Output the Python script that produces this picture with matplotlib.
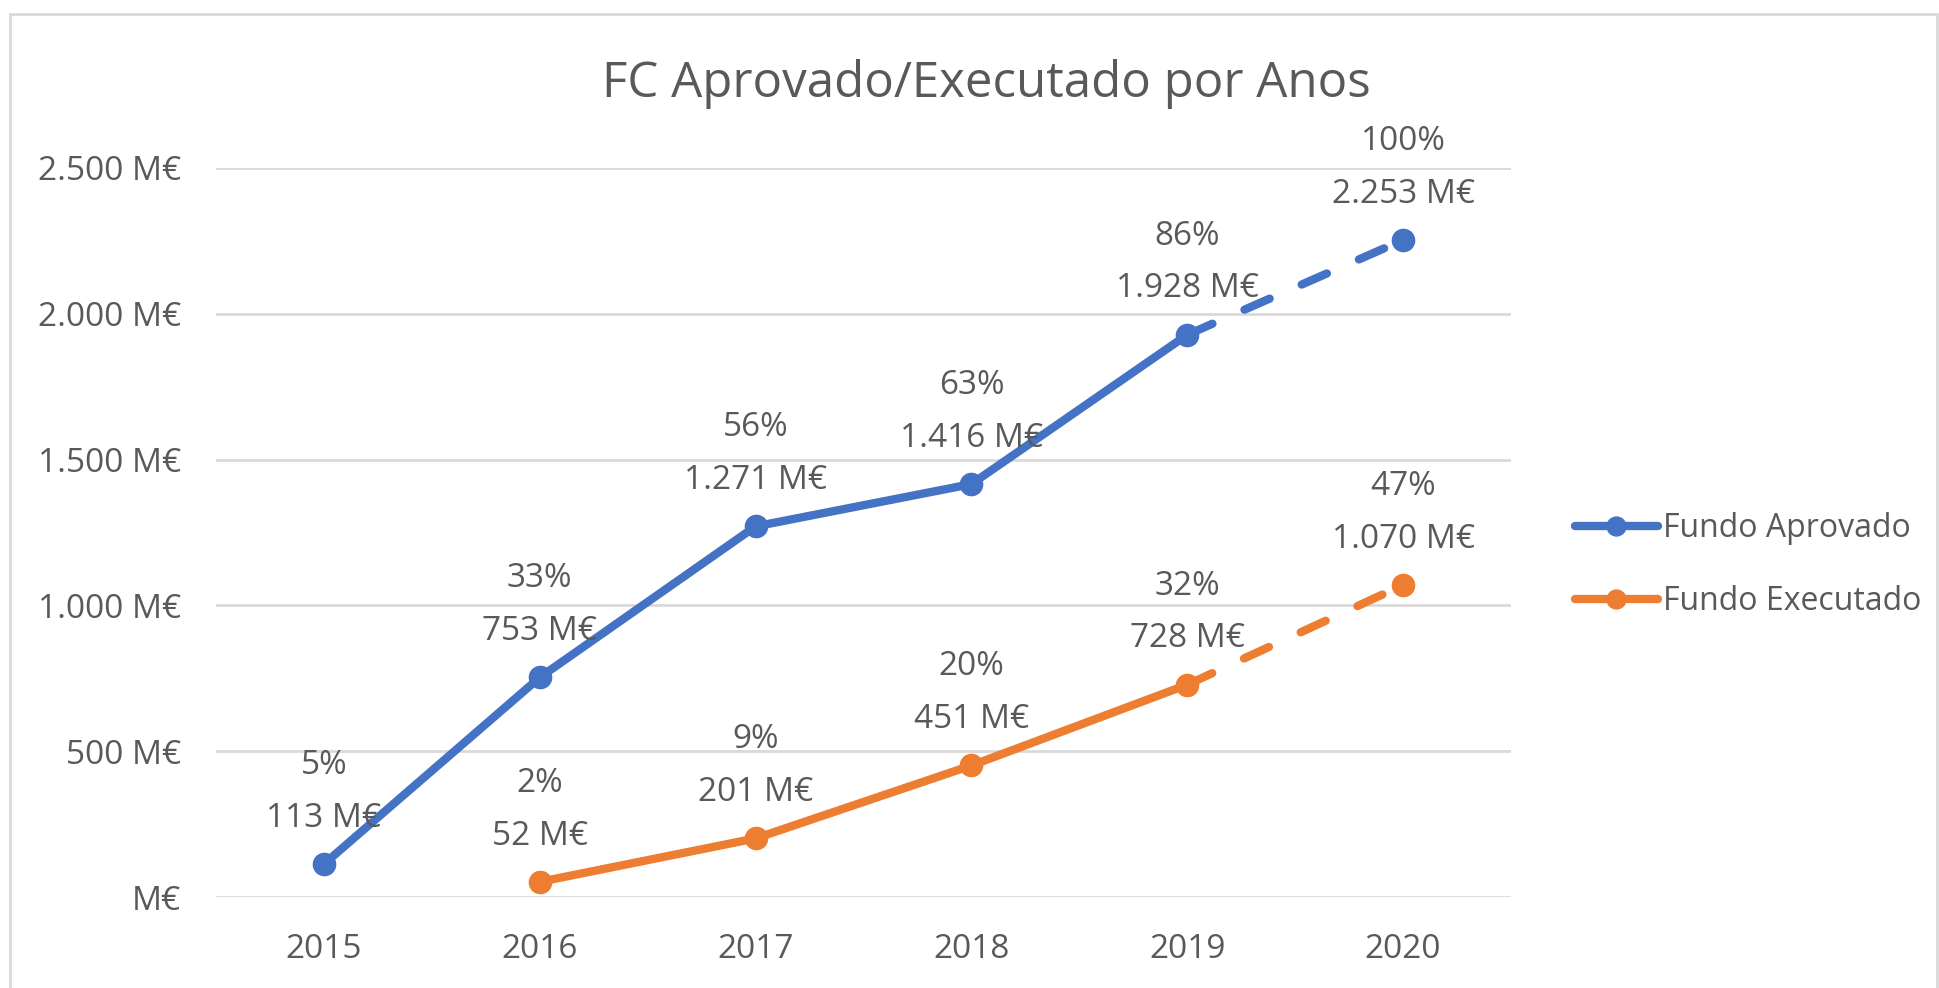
#!/usr/bin/env python3
import matplotlib
matplotlib.use("Agg")
import matplotlib.pyplot as plt
from matplotlib.patches import Rectangle

years = ["2015", "2016", "2017", "2018", "2019", "2020"]
aprovado = [113, 753, 1271, 1416, 1928, 2253]
aprovado_pct = ["5%", "33%", "56%", "63%", "86%", "100%"]
executado = [None, 52, 201, 451, 728, 1070]
executado_pct = [None, "2%", "9%", "20%", "32%", "47%"]
y_ticks = [0, 500, 1000, 1500, 2000, 2500]

BLUE = "#4472C4"
ORANGE = "#ED7D31"
TEXT = "#595959"
GRID = "#D9D9D9"


def fmt_meur(v):
    if v == 0:
        return "M€"
    return f"{v:,.0f}".replace(",", ".") + " M€"


plt.rcParams["font.family"] = ["Open Sans", "DejaVu Sans"]

fig = plt.figure(figsize=(19.39, 9.88), dpi=100)
fig.patches.append(Rectangle((10 / 1939, -0.1), 1927 / 1939, 1.1 - 14 / 988,
                             transform=fig.transFigure, fill=False,
                             edgecolor="#D9D9D9", linewidth=2))

ax = fig.add_axes([216 / 1939, 1 - 897 / 988, 1295 / 1939, 729 / 988])
xs = list(range(len(years)))

for vals, pcts, color, label in [
    (aprovado, aprovado_pct, BLUE, "Fundo Aprovado"),
    (executado, executado_pct, ORANGE, "Fundo Executado"),
]:
    idx = [i for i, v in enumerate(vals) if v is not None]
    solid_x = [i for i in idx if i <= 4]
    solid_y = [vals[i] for i in solid_x]
    ax.plot(solid_x, solid_y, color=color, linewidth=6, marker="o",
            markersize=16, solid_capstyle="round", label=label, zorder=3)
    ax.plot([4, 5], [vals[4], vals[5]], color=color, linewidth=6,
            linestyle=(0, (3.3, 4.2)), dash_capstyle="round", zorder=3)
    ax.plot([5], [vals[5]], color=color, marker="o", markersize=16,
            linestyle="none", zorder=3)
    for i in idx:
        ax.annotate(fmt_meur(vals[i]), (i, vals[i]), xytext=(0, 33),
                    textcoords="offset points", ha="center", va="center",
                    fontsize=24, color=TEXT)
        ax.annotate(pcts[i], (i, vals[i]), xytext=(0, 71),
                    textcoords="offset points", ha="center", va="center",
                    fontsize=24, color=TEXT)

ax.set_xlim(-0.5, 5.5)
ax.set_ylim(0, 2500)
ax.set_xticks(xs)
ax.set_xticklabels(years)
ax.set_yticks(y_ticks)
ax.set_yticklabels([fmt_meur(v) for v in y_ticks])
ax.tick_params(axis="both", length=0, labelsize=24, colors=TEXT)
ax.tick_params(axis="y", pad=25)
ax.tick_params(axis="x", pad=26)
ax.grid(axis="y", color=GRID, linewidth=2)
ax.set_axisbelow(True)
for s in ax.spines.values():
    s.set_visible(False)

fig.text(986 / 1939, 1 - 84 / 988, "FC Aprovado/Executado por Anos",
         ha="center", va="center", fontsize=35.5, color=TEXT)

fig.legend(loc="center left", bbox_to_anchor=(1546 / 1939, 1 - 565 / 988),
           frameon=False, fontsize=23, labelcolor=TEXT, handlelength=2.6,
           handletextpad=0.15, labelspacing=1.25, markerscale=0.85)

fig.savefig("out.png", dpi=100)
